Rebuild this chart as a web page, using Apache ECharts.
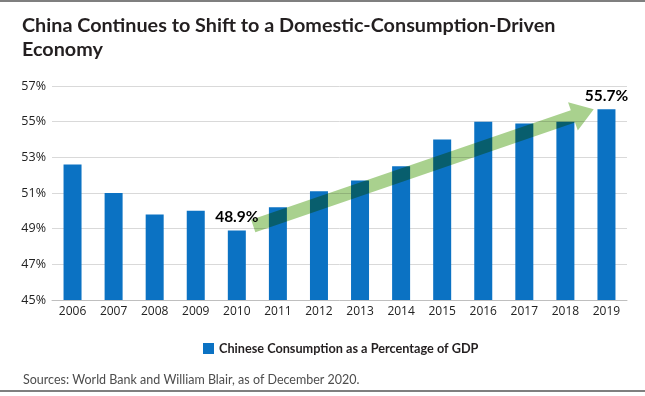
<!DOCTYPE html>
<html>
<head>
<meta charset="utf-8">
<script src="https://cdn.jsdelivr.net/npm/echarts@6/dist/echarts.min.js"></script>
<style>
html,body{margin:0;padding:0;background:#fff;}
#chart{width:645px;height:396px;}
</style>
</head>
<body>
<div id="chart"></div>
<script>
var years = ['2006','2007','2008','2009','2010','2011','2012','2013','2014','2015','2016','2017','2018','2019'];
var consumption = [52.6, 51.0, 49.8, 50.0, 48.9, 50.2, 51.1, 51.7, 52.5, 54.0, 55.0, 54.9, 55.0, 55.7];
var labelledYears = ['2010', '2019'];
var seriesName = 'Chinese Consumption as a Percentage of GDP';
var titleText = 'China Continues to Shift to a Domestic-Consumption-Driven\nEconomy';
var sourceText = 'Sources: World Bank and William Blair, as of December 2020.';
// trend arrow in data units: [category index, value]
var arrowStart = [4.40, 49.15];
var arrowEnd = [12.69, 55.7];

var chart = echarts.init(document.getElementById('chart'), null, {renderer: 'canvas'});

var barData = consumption.map(function (v, i) {
  var d = {value: v};
  if (labelledYears.indexOf(years[i]) >= 0) {
    d.label = {show: true};
  }
  return d;
});

chart.setOption({
  animation: false,
  backgroundColor: '#fff',
  title: [{
    text: titleText,
    left: 17,
    top: 9,
    textStyle: {fontFamily: 'Lato', fontWeight: 'bold', fontSize: 19.8, lineHeight: 24, color: '#231f20'}
  }, {
    text: sourceText,
    left: 18,
    top: 368,
    textStyle: {fontFamily: 'Lato', fontWeight: 'normal', fontSize: 12.5, color: '#4d4d4d'}
  }],
  legend: {
    top: 337,
    left: 198,
    icon: 'rect',
    itemWidth: 11,
    itemHeight: 11,
    itemGap: 6,
    textStyle: {fontFamily: 'Lato', fontWeight: 'bold', fontSize: 12.7, color: '#231f20'},
    data: [seriesName]
  },
  grid: {left: 52, right: 18, top: 86, bottom: 96, containLabel: false},
  xAxis: {
    type: 'category',
    data: years,
    axisLine: {lineStyle: {color: '#bfbfbf', width: 1}},
    axisTick: {show: false},
    axisLabel: {fontFamily: 'Open Sans', fontSize: 12, color: '#222', margin: 6}
  },
  yAxis: {
    type: 'value',
    min: 45,
    max: 57,
    interval: 2,
    axisLine: {show: false},
    axisTick: {show: false},
    axisLabel: {fontFamily: 'Open Sans', fontSize: 12.5, color: '#222', margin: 6, formatter: '{value}%'},
    splitLine: {lineStyle: {color: '#d9d9d9', width: 1}}
  },
  series: [{
    name: seriesName,
    type: 'bar',
    data: barData,
    barWidth: 18,
    itemStyle: {color: '#0b72c3'},
    label: {
      show: false,
      position: 'top',
      distance: 5,
      formatter: '{c}%',
      fontFamily: 'Lato',
      fontWeight: 'bold',
      fontSize: 15.5,
      color: '#000'
    }
  }]
});

function px(pt) {
  var x0 = chart.convertToPixel({xAxisIndex: 0}, years[0]);
  var x1 = chart.convertToPixel({xAxisIndex: 0}, years[1]);
  var y = chart.convertToPixel({yAxisIndex: 0}, pt[1]);
  return [x0 + (x1 - x0) * pt[0], y];
}
var a = px(arrowStart), b = px(arrowEnd);
var dx = b[0] - a[0], dy = b[1] - a[1];
var len = Math.sqrt(dx * dx + dy * dy);
var ux = dx / len, uy = dy / len;
var nx = -uy, ny = ux;
var sw = 6.5, hw = 15, hl = 22;
var hbx = b[0] - ux * hl, hby = b[1] - uy * hl;
var pts = [
  [a[0] + nx * sw, a[1] + ny * sw],
  [hbx + nx * sw, hby + ny * sw],
  [hbx + nx * hw, hby + ny * hw],
  [b[0], b[1]],
  [hbx - nx * hw, hby - ny * hw],
  [hbx - nx * sw, hby - ny * sw],
  [a[0] - nx * sw, a[1] - ny * sw]
];

chart.setOption({
  graphic: [{
    type: 'polygon',
    shape: {points: pts},
    style: {fill: '#a9d18e', blend: 'multiply'},
    z: 100
  }, {
    type: 'rect',
    shape: {x: 0, y: 0, width: 645, height: 2},
    style: {fill: '#7f7f7f'},
    z: 100
  }, {
    type: 'rect',
    shape: {x: 0, y: 390, width: 645, height: 2},
    style: {fill: '#7f7f7f'},
    z: 100
  }]
});
</script>
</body>
</html>
